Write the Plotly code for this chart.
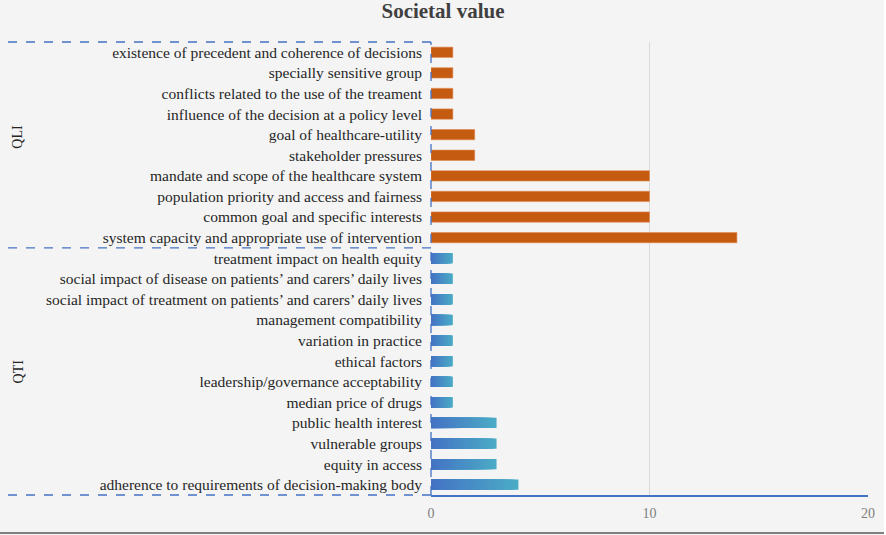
import plotly.graph_objects as go

title = "Societal value"

qli_labels = [
    "existence of precedent and coherence of decisions",
    "specially sensitive group",
    "conflicts related to the use of the treament",
    "influence of the decision at a policy level",
    "goal of healthcare-utility",
    "stakeholder pressures",
    "mandate and scope of the healthcare system",
    "population priority and access and fairness",
    "common goal and specific interests",
    "system capacity and appropriate use of intervention",
]
qli_values = [1, 1, 1, 1, 2, 2, 10, 10, 10, 14]

qti_labels = [
    "treatment impact on health equity",
    "social impact of disease on patients\u2019 and carers\u2019 daily lives",
    "social impact of treatment on patients\u2019 and carers\u2019 daily lives",
    "management compatibility",
    "variation in practice",
    "ethical factors",
    "leadership/governance acceptability",
    "median price of drugs",
    "public health interest",
    "vulnerable groups",
    "equity in access",
    "adherence to requirements of decision-making body",
]
qti_values = [1, 1, 1, 1, 1, 1, 1, 1, 3, 3, 3, 4]

group_names = ["QLI", "QTI"]
x_ticks = [0, 10, 20]

# order bottom -> top for plotly category axis
cats = list(reversed(qli_labels + qti_labels))
n_qti = len(qti_labels)
n_all = len(cats)

BG = "#f4f4f4"
ORANGE = "#c55a11"
BLUE_DASH = "#4472c4"
C0 = (68, 114, 196)   # left of gradient
C1 = (75, 172, 198)   # right of gradient

fig = go.Figure()

# Gradient blue bars (QTI) as overlaid steps
N = 24
for k in range(N):
    frac = (N - k) / N
    t = (N - k - 0.5) / N
    col = "rgb(%d,%d,%d)" % tuple(round(C0[i] + (C1[i] - C0[i]) * t) for i in range(3))
    fig.add_trace(go.Bar(
        y=qti_labels, x=[v * frac for v in qti_values], orientation="h",
        marker=dict(color=col, line=dict(width=0)), width=0.5,
        showlegend=False, hoverinfo="skip",
    ))

fig.add_trace(go.Bar(
    y=qli_labels, x=qli_values, orientation="h",
    marker=dict(color=ORANGE, line=dict(color="#e08a50", width=0.6)), width=0.5,
    showlegend=False,
))

W, H = 886, 535
L, R, T, B = 431, 18, 42, 40
pw = W - L - R
ph = H - T - B

def px_to_paper_x(px):
    return (px - L) / pw

def px_to_paper_y(py):
    return (H - B - py) / ph

x_left = px_to_paper_x(8)
div_y = n_qti - 0.5

dash = dict(color=BLUE_DASH, width=1.3, dash="dash")
shapes = [
    dict(type="line", xref="paper", yref="paper", x0=x_left, x1=0, y0=1, y1=1, line=dash),
    dict(type="line", xref="paper", yref="y", x0=x_left, x1=0, y0=div_y, y1=div_y, line=dash),
    dict(type="line", xref="paper", yref="paper", x0=x_left, x1=0, y0=0, y1=0, line=dash),
    dict(type="line", xref="paper", yref="paper", x0=0, x1=0, y0=0, y1=1, line=dash),
    # chart frame bottom edge / right edge
    dict(type="line", xref="paper", yref="paper", x0=px_to_paper_x(0), x1=px_to_paper_x(884),
         y0=px_to_paper_y(533), y1=px_to_paper_y(533), line=dict(color="#7f7f7f", width=2)),
    dict(type="rect", xref="paper", yref="paper", x0=px_to_paper_x(884), x1=px_to_paper_x(886),
         y0=px_to_paper_y(535), y1=px_to_paper_y(0), fillcolor="white", line=dict(width=0)),
]

annotations = [
    dict(text=group_names[0], xref="paper", yref="y", x=px_to_paper_x(18), xanchor="center",
         yanchor="middle", y=(div_y + n_all - 0.5) / 2 + 0.4, textangle=-90, showarrow=False,
         font=dict(family="Liberation Serif", size=14, color="#262626")),
    dict(text=group_names[1], xref="paper", yref="y", x=px_to_paper_x(18), xanchor="center",
         yanchor="middle", y=(div_y - 0.5) / 2, textangle=-90, showarrow=False,
         font=dict(family="Liberation Serif", size=14, color="#262626")),
]

fig.update_layout(
    width=W, height=H,
    margin=dict(l=L, r=R, t=T, b=B, autoexpand=False),
    paper_bgcolor=BG, plot_bgcolor=BG,
    barmode="overlay",
    title=dict(text="<b>" + title + "</b>", x=0.5, xanchor="center", y=1 - 11 / H, yanchor="middle",
               font=dict(family="Liberation Serif", size=21, color="#404040")),
    xaxis=dict(range=[0, 20], tickvals=x_ticks, showgrid=True, gridcolor="#d9d9d9", gridwidth=1,
               zeroline=False, showline=True, linecolor=BLUE_DASH, linewidth=1.5,
               ticks="", tickfont=dict(family="Liberation Serif", size=14, color="#7f7f7f"),
               ticklabelstandoff=4, automargin=False, fixedrange=True),
    yaxis=dict(type="category", categoryorder="array", categoryarray=cats,
               range=[-0.5, n_all - 0.5], showgrid=False, zeroline=False, showline=False,
               ticks="", ticklabelstandoff=8, automargin=False, fixedrange=True,
               tickfont=dict(family="Liberation Serif", size=15.5, color="#262626")),
    shapes=shapes, annotations=annotations,
    font=dict(family="Liberation Serif"),
)

fig.write_html(
    "out.html",
    config={"displayModeBar": False},
    post_script="document.body.style.margin='0';document.body.style.overflow='hidden';",
)
